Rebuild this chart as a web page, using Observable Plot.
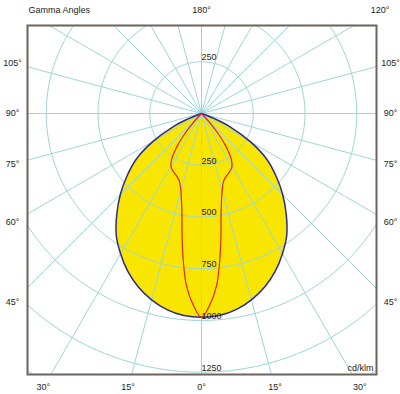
<!DOCTYPE html>
<html><head><meta charset="utf-8">
<script src="https://cdn.jsdelivr.net/npm/d3@7"></script>
<script src="https://cdn.jsdelivr.net/npm/@observablehq/plot@0.6"></script>
<style>body{margin:0;background:#fff}</style>
</head><body><div id="chart"></div>
<script>
// C0-C180 plane (filled, blue outline): gamma (deg) and intensity (cd/klm)
const gammaC0 = [0, 5, 10, 15, 20, 25, 30, 35, 40, 45, 50, 55, 60, 65, 68, 70, 72];
const intensityC0 = [985, 980, 962, 932, 892, 842, 782, 718, 637, 555, 470, 385, 272, 152, 70, 25, 0];
// C90-C270 plane (red)
const gammaC90 = [0, 2.5, 5, 7, 9, 11, 13, 15, 18, 21, 24, 27, 30, 33, 35, 37, 39, 41, 43, 45];
const intensityC90 = [985, 925, 835, 720, 600, 495, 430, 385, 345, 328, 318, 308, 295, 265, 230, 190, 140, 80, 30, 0];
// grid
const ringValues = [250, 500, 750, 1000, 1250, 1500];
const ringLabelValues = [-250, 250, 500, 750, 1000, 1250];
const spokeAngles = d3.range(0, 360, 15);
const angleLabels = [-105, -90, -75, -60, -45, -30, -15, 0, 15, 30, 45, 60, 75, 90, 105, 120, 180];
const titleText = "Gamma Angles";
const unitText = "cd/klm";

const rad = d => d * Math.PI / 180;
const polar = (g, I) => ({x: I * Math.sin(rad(g)), y: I * Math.cos(rad(g))});

function mirrored(gs, vs) {
  const pts = [];
  for (let i = gs.length - 1; i >= 0; i--) pts.push(polar(-gs[i], vs[i]));
  for (let i = 1; i < gs.length; i++) pts.push(polar(gs[i], vs[i]));
  return pts;
}
const curveC0 = mirrored(gammaC0, intensityC0);
const curveC90 = mirrored(gammaC90, intensityC90);

const rings = ringValues.flatMap(r => d3.range(0, 361, 2).map(a => ({r, ...polar(a, r)})));
const spokes = spokeAngles.map(a => ({x1: 0, y1: 0, x2: polar(a, 3000).x, y2: polar(a, 3000).y}));

// label rectangle (data units) around the frame
const XL = 913, YT = -498, YB = 1324;
const labelPts = angleLabels.map(a => {
  const dx = Math.sin(rad(a)), dy = Math.cos(rad(a));
  let t = Infinity;
  if (Math.abs(dx) > 1e-9) t = Math.min(t, XL / Math.abs(dx));
  if (dy > 1e-9) t = Math.min(t, YB / dy);
  if (dy < -1e-9) t = Math.min(t, YT / dy);
  return {x: t * dx, y: t * dy, text: Math.abs(a) + "°"};
});

const gridColor = "#9dd6d5";
const chart = Plot.plot({
  width: 400, height: 394,
  marginLeft: 27, marginRight: 24, marginTop: 25, marginBottom: 20,
  x: {domain: [-840.6, 845.4], axis: null},
  y: {domain: [-425, 1261], reverse: true, axis: null},
  style: {fontFamily: "'Liberation Sans', Arial, sans-serif", fontSize: "9px", background: "#fff", color: "#1c1c1c"},
  marks: [
    Plot.line(curveC0, {x: "x", y: "y", fill: "#f8e600", stroke: "none", curve: "catmull-rom"}),
    Plot.line(rings, {x: "x", y: "y", z: "r", stroke: gridColor, strokeWidth: 1, clip: true}),
    Plot.link(spokes, {x1: "x1", y1: "y1", x2: "x2", y2: "y2", stroke: gridColor, strokeWidth: 1, clip: true}),
    Plot.line(curveC0, {x: "x", y: "y", stroke: "#2e2a8c", strokeWidth: 1.5, curve: "catmull-rom"}),
    Plot.line(curveC90, {x: "x", y: "y", stroke: "#e3222b", strokeWidth: 1.2, curve: "catmull-rom"}),
    Plot.text(ringLabelValues, {x: 0, y: d => d, text: d => String(Math.abs(d)), textAnchor: "start", lineAnchor: "bottom", dx: 0, dy: -1.5, fill: "#1c1c1c", fontSize: 9}),
    Plot.text(labelPts, {x: "x", y: "y", text: "text", fill: "#1c1c1c", fontSize: 9}),
    Plot.text([titleText], {frameAnchor: "top-left", text: d => d, textAnchor: "start", lineAnchor: "middle", dx: 1, dy: -15, fill: "#1c1c1c", fontSize: 9}),
    Plot.text([unitText], {frameAnchor: "bottom-right", text: d => d, textAnchor: "end", lineAnchor: "bottom", dx: -3, dy: -4, fill: "#1c1c1c", fontSize: 9}),
    Plot.frame({stroke: "#6e625c", strokeWidth: 2})
  ]
});
document.getElementById("chart").appendChild(chart);
</script>
</body></html>
